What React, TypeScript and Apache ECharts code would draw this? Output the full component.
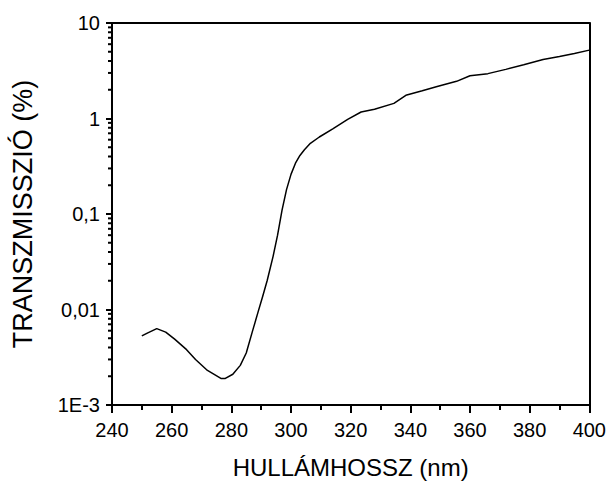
import React, { useEffect, useRef } from "react";
import * as echarts from "echarts";

const wavelength = [250, 252, 255, 258, 261, 265, 268, 272, 276.5, 278, 280.5, 283, 285, 287, 289, 290.5, 292, 294, 295.5, 297, 298.5, 300, 301.5, 303, 304.5, 306.5, 309.5, 314, 319, 323.5, 328, 334.5, 338.5, 344, 349, 355.5, 360, 366, 372, 378, 384.5, 390, 395, 400];
const transmission = [0.0053, 0.0057, 0.0063, 0.0058, 0.0049, 0.0038, 0.003, 0.0023, 0.0019, 0.0019, 0.0021, 0.0026, 0.0035, 0.0058, 0.0095, 0.0137, 0.02, 0.036, 0.06, 0.11, 0.18, 0.26, 0.34, 0.41, 0.47, 0.55, 0.64, 0.78, 0.98, 1.17, 1.25, 1.44, 1.75, 1.95, 2.16, 2.45, 2.8, 2.95, 3.27, 3.65, 4.15, 4.45, 4.8, 5.2];
const yTickLabels: Record<string, string> = { "10": "10", "1": "1", "0.1": "0,1", "0.01": "0,01", "0.001": "1E-3" };
const yMinorTicks = [0.002, 0.003, 0.004, 0.005, 0.006, 0.007, 0.008, 0.009, 0.02, 0.03, 0.04, 0.05, 0.06, 0.07, 0.08, 0.09, 0.2, 0.3, 0.4, 0.5, 0.6, 0.7, 0.8, 0.9, 2, 3, 4, 5, 6, 7, 8, 9];
const xTitle = "HULLÁMHOSSZ (nm)";
const yTitle = "TRANSZMISSZIÓ (%)";

const FONT = "Liberation Sans, Arial, sans-serif";

export default function App() {
  const ref = useRef<HTMLDivElement>(null);
  useEffect(() => {
    if (!ref.current) return;
    const chart = echarts.init(ref.current, undefined, { renderer: "svg" });
    chart.setOption({
      animation: false,
      backgroundColor: "#fff",
      grid: { left: 112, right: 19, top: 23, bottom: 74 },
      xAxis: [
        {
          type: "value",
          min: 240,
          max: 400,
          interval: 20,
          position: "bottom",
          name: xTitle,
          nameLocation: "middle",
          nameGap: 50,
          nameTextStyle: { fontFamily: FONT, fontSize: 24, color: "#000" },
          axisLine: { show: true, onZero: false, lineStyle: { color: "#000", width: 2 } },
          axisTick: { show: true, length: 8, lineStyle: { color: "#000", width: 2 } },
          minorTick: { show: true, splitNumber: 2, length: 5, lineStyle: { color: "#000", width: 2 } },
          axisLabel: { fontFamily: FONT, fontSize: 20, color: "#000", margin: 15 },
          splitLine: { show: false },
          minorSplitLine: { show: false },
        },
        {
          type: "value",
          min: 240,
          max: 400,
          interval: 20,
          position: "top",
          axisLine: { show: true, onZero: false, lineStyle: { color: "#000", width: 2 } },
          axisTick: { show: false },
          axisLabel: { show: false },
          splitLine: { show: false },
        },
      ],
      yAxis: [
        {
          type: "log",
          logBase: 10,
          min: 0.001,
          max: 10,
          splitNumber: 4,
          position: "left",
          name: yTitle,
          nameLocation: "middle",
          nameGap: 76,
          nameRotate: 90,
          nameTextStyle: { fontFamily: FONT, fontSize: 27, color: "#000" },
          axisLine: { show: true, onZero: false, lineStyle: { color: "#000", width: 2 } },
          axisTick: { show: true, length: 6, lineStyle: { color: "#000", width: 2 } },
          axisLabel: {
            fontFamily: FONT,
            fontSize: 20,
            color: "#000",
            margin: 12,
            formatter: (v: number) => {
              const k = String(Number(v.toPrecision(3)));
              return yTickLabels[k] ?? k;
            },
          },
          splitLine: { show: false },
        },
        {
          type: "log",
          logBase: 10,
          min: 0.001,
          max: 10,
          position: "right",
          axisLine: { show: true, onZero: false, lineStyle: { color: "#000", width: 2 } },
          axisTick: { show: false },
          axisLabel: { show: false },
          splitLine: { show: false },
        },
      ],
      series: [
        {
          type: "line",
          xAxisIndex: 0,
          yAxisIndex: 0,
          data: wavelength.map((w, i) => [w, transmission[i]]),
          showSymbol: false,
          symbol: "none",
          lineStyle: { color: "#000", width: 1.5 },
          smooth: false,
        },
        {
          type: "custom",
          xAxisIndex: 0,
          yAxisIndex: 0,
          clip: false,
          silent: true,
          data: yMinorTicks.map((v) => [240, v]),
          renderItem: (params: any, api: any) => {
            const p = api.coord([api.value(0), api.value(1)]);
            return {
              type: "line",
              shape: { x1: p[0] - 4, y1: p[1], x2: p[0], y2: p[1] },
              style: { stroke: "#000", lineWidth: 2 },
            };
          },
        },
      ],
    });
    return () => chart.dispose();
  }, []);
  return <div ref={ref} style={{ position: "fixed", left: 0, top: 0, width: 609, height: 484 }} />;
}
